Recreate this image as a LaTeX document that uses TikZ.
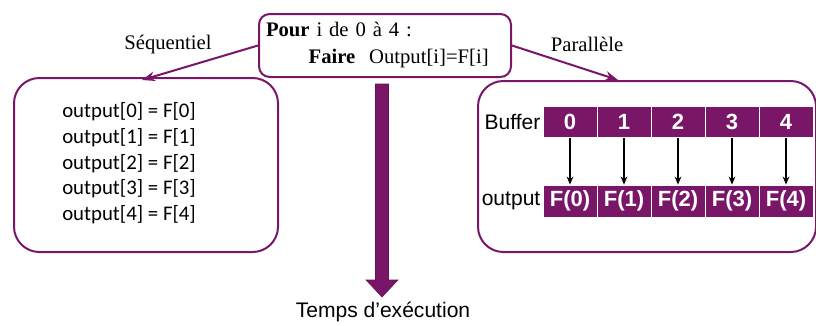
\documentclass[tikz,border=0pt]{standalone}
\usepackage{fontspec}
\setmainfont{Liberation Serif}
\newfontfamily\calib{Carlito}
\newfontfamily\arial{Liberation Sans}
\usetikzlibrary{arrows.meta,positioning}
\definecolor{prune}{RGB}{122,22,104}

\begin{document}
\begin{tikzpicture}[x=0.75pt,y=-0.75pt,>=Stealth,
  bigbox/.style={draw=prune,line width=1.5pt,rounded corners=19pt,inner sep=0pt},
  cell/.style={fill=prune,draw=white,line width=0.6pt,minimum width=40.5pt,minimum height=23.5pt,inner sep=0pt,text=white,font=\arial\bfseries\fontsize{16.5}{18}\selectfont},
  seqtxt/.style={anchor=west,inner sep=0pt,font=\calib\fontsize{15.6}{18}\selectfont},
  sanstxt/.style={inner sep=0pt,font=\arial\fontsize{15.8}{18}\selectfont},
  serif/.style={inner sep=0pt,font=\fontsize{15.5}{18}\selectfont}]
\useasboundingbox (0,0) rectangle (816,325);

% la boucle
\node[bigbox,rounded corners=8pt,anchor=north west,minimum width=189pt,minimum height=47.25pt,
  text width=178.5pt,align=left,font=\fontsize{15.5}{20.25}\selectfont] (loop) at (258,13)
  {\textbf{Pour} i de 0 à 4 :\\\hspace*{32pt}\textbf{Faire}\ \ Output[i]=F[i]};

% cadres
\node[bigbox,anchor=north west,minimum width=198pt,minimum height=130.5pt] (seq) at (13,77) {};
\node[bigbox,anchor=north west,minimum width=253.5pt,minimum height=128.25pt] (par) at (477,80) {};

% sequentiel
\foreach \i in {0,...,4}
  \node[seqtxt] (seq\i) at (62,{112+25.7*\i}) {output[\i] = F[\i]};

% parallele
\foreach \i in {0,...,4} {
  \node[cell] (buf\i) at ({570+54*\i},122) {\i};
  \node[cell,minimum height=24pt] (out\i) at ({570+54*\i},201) {F(\i)};
  \draw[-{Stealth[length=6pt,width=5pt]},line width=1.5pt] (buf\i) -- (out\i);
}
\node[sanstxt,left=1.5pt of buf0] (buflbl) {Buffer};
\node[sanstxt,left=1.5pt of out0] (outlbl) {output};

% fleches
\coordinate (seqin) at (142,80);
\coordinate (parin) at (618,80);
\draw[->,prune,line width=1.5pt] (loop.west) -- (seqin);
\draw[->,prune,line width=1.5pt] (loop.east) -- (parin);
\node[serif] (seqlbl) at (168,45) {Séquentiel};
\node[serif] (parlbl) at (587,44) {Parallèle};

% temps
\fill[prune,draw=prune!80!black,line width=0.4pt] (375.5,84) -- (388.5,84) -- (388.5,280) -- (398,280)
  -- (382,297) -- (366,280) -- (375.5,280) -- cycle;
\node[sanstxt] (temps) at (383,312) {Temps d’exécution};
\end{tikzpicture}
\end{document}
